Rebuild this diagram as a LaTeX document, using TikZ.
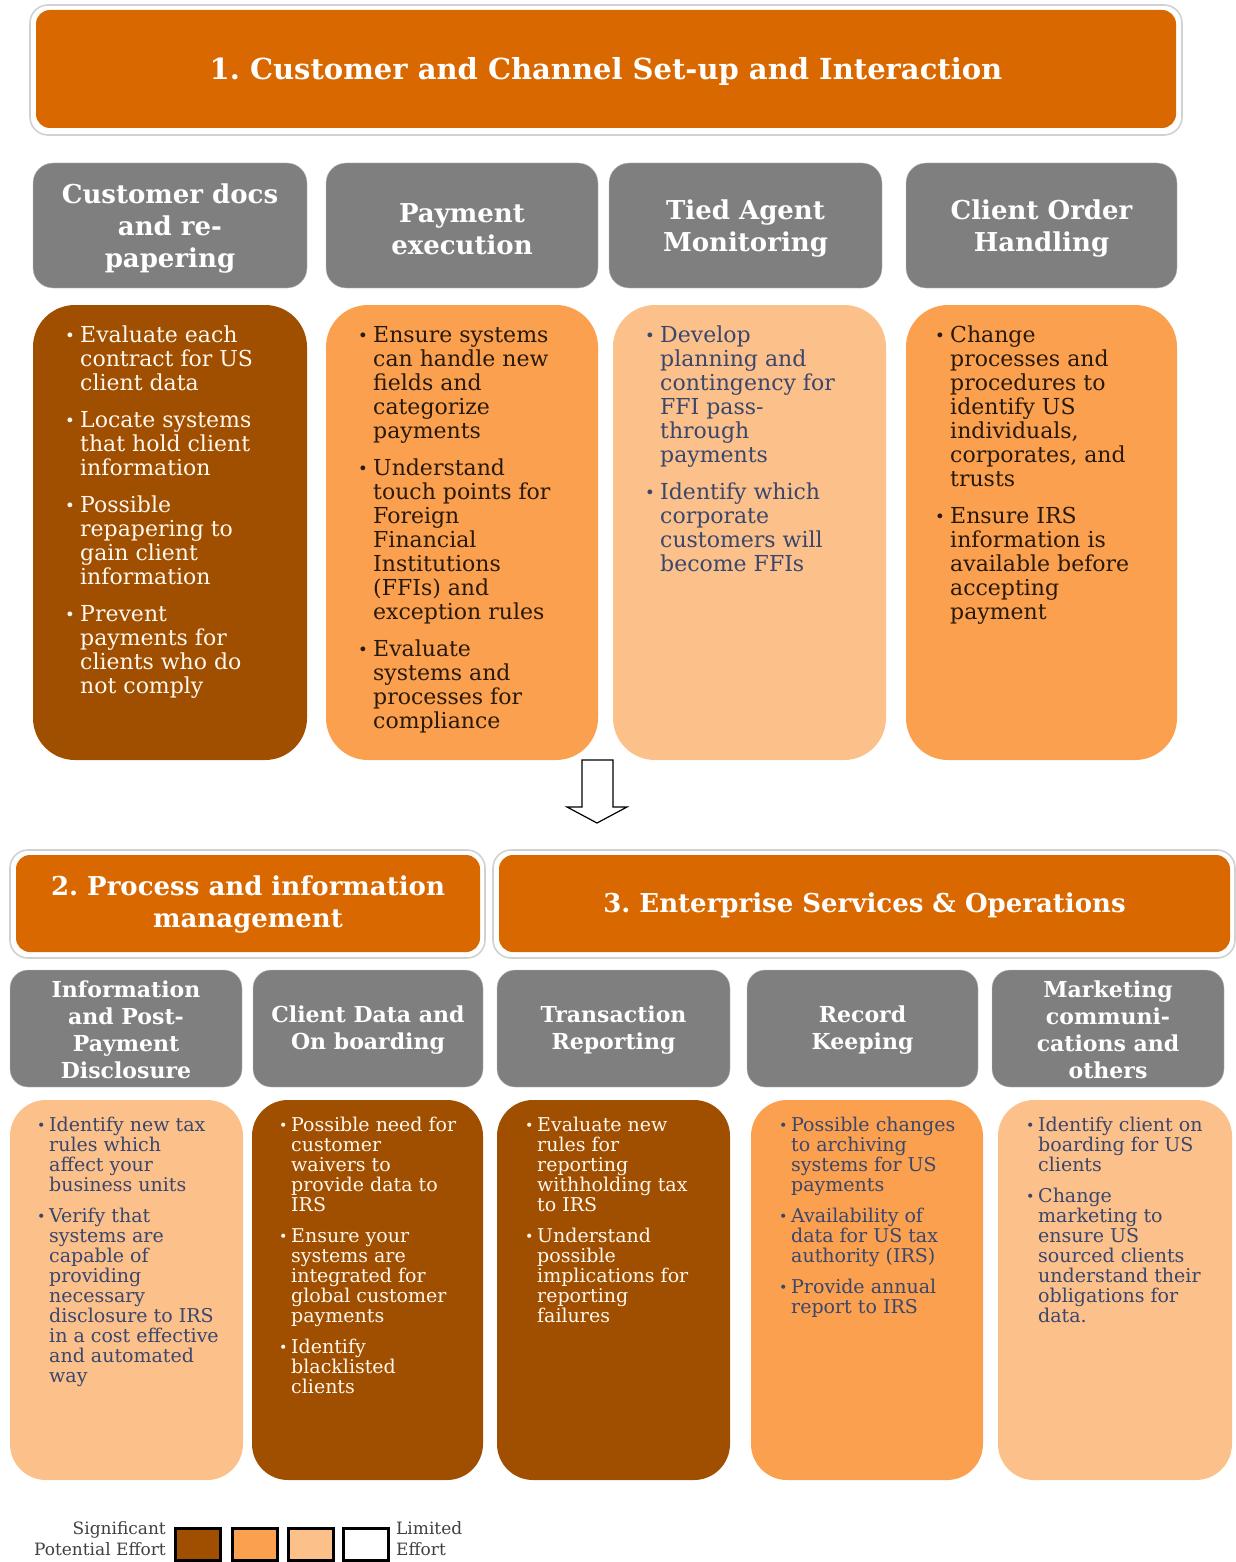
\documentclass[tikz,border=0pt]{standalone}
\usepackage{fontspec}
\setmainfont{DejaVu Serif}
\frenchspacing
\definecolor{banner}{RGB}{217,104,0}
\definecolor{hdrgray}{RGB}{127,127,127}
\definecolor{darkfill}{RGB}{160,78,0}
\definecolor{midfill}{RGB}{251,160,78}
\definecolor{lightfill}{RGB}{252,192,138}
\definecolor{navy}{RGB}{58,70,108}
\definecolor{ink}{RGB}{40,25,10}
\definecolor{cream}{RGB}{255,248,238}
\newcommand\bua{\makebox[15pt][l]{\raisebox{0.05em}{\scalebox{0.75}{\textbullet}}}}
\newcommand\inda{\hspace*{15pt}}
\newcommand\bub{\makebox[12pt][l]{\raisebox{0.05em}{\scalebox{0.75}{\textbullet}}}}
\newcommand\indb{\hspace*{12pt}}
\begin{document}
\begin{tikzpicture}[x=1pt,y=-1pt,
  frame/.style={draw=black!18,line width=1.6pt,fill=white,rounded corners=18pt,inner sep=0},
  bannerbox/.style={fill=banner,rounded corners=14pt,inner sep=0},
  titletext/.style={text=white,font=\bfseries\fontsize{29}{32}\selectfont,align=center,inner sep=0},
  hdrbox/.style={fill=hdrgray,draw=black!25,line width=0.4pt,rounded corners=20pt,inner sep=0},
  hdrtext/.style={text=white,font=\bfseries\fontsize{26}{32}\selectfont,align=center,inner sep=0},
  hdrtextb/.style={text=white,font=\bfseries\fontsize{22}{27}\selectfont,align=center,inner sep=0},
  contentbox/.style={rounded corners=42pt,inner sep=0},
  contentboxb/.style={rounded corners=36pt,inner sep=0},
  bodya/.style={anchor=north west,align=left,inner sep=0,font=\fontsize{22}{24}\selectfont},
  bodyb/.style={anchor=north west,align=left,inner sep=0,font=\fontsize{19}{20}\selectfont},
  legbox/.style={draw=black,line width=3pt,inner sep=0,minimum width=45pt,minimum height=32pt},
  legtext/.style={inner sep=0,text=black!75,font=\fontsize{17}{21}\selectfont}
]
\useasboundingbox (0,0) rectangle (1235,1562);

% ---------- Banner 1 ----------
\node[frame,minimum width=1152pt,minimum height=130pt] (f1) at (606,70) {};
\node[bannerbox,minimum width=1140pt,minimum height=118pt] (b1) at (606,69) {};
\node[titletext] (t1) at (606,72) {1. Customer and Channel Set-up and Interaction};

% ---------- Row 1 headers ----------
\node[hdrbox,minimum width=274pt,minimum height=125pt] (h11) at (170,225.5) {};
\node[hdrbox,minimum width=272pt,minimum height=125pt] (h12) at (462,225.5) {};
\node[hdrbox,minimum width=273pt,minimum height=125pt] (h13) at (745.5,225.5) {};
\node[hdrbox,minimum width=271pt,minimum height=125pt] (h14) at (1041.5,225.5) {};
\node[hdrtext] (ht11) at (170,229) {Customer docs\\and re-\\papering};
\node[hdrtext] (ht12) at (462,229) {Payment\\execution};
\node[hdrtext] (ht13) at (745.5,229) {Tied Agent\\Monitoring};
\node[hdrtext] (ht14) at (1041.5,229) {Client Order\\Handling};

% ---------- Row 1 content ----------
\node[contentbox,fill=darkfill,minimum width=274pt,minimum height=455pt] (c11) at (170,532.5) {};
\node[contentbox,fill=midfill,minimum width=272pt,minimum height=455pt] (c12) at (462,532.5) {};
\node[contentbox,fill=lightfill,minimum width=273pt,minimum height=455pt] (c13) at (749.5,532.5) {};
\node[contentbox,fill=midfill,minimum width=271pt,minimum height=455pt] (c14) at (1041.5,532.5) {};

\node[bodya,text=cream] (x11) at (65,326) {\bua Evaluate each\\\inda contract for US\\\inda client data\\[13pt]
\bua Locate systems\\\inda that hold client\\\inda information\\[13pt]
\bua Possible\\\inda repapering to\\\inda gain client\\\inda information\\[13pt]
\bua Prevent\\\inda payments for\\\inda clients who do\\\inda not comply};

\node[bodya,text=ink] (x12) at (358,326) {\bua Ensure systems\\\inda can handle new\\\inda fields and\\\inda categorize\\\inda payments\\[13pt]
\bua Understand\\\inda touch points for\\\inda Foreign\\\inda Financial\\\inda Institutions\\\inda (FFIs) and\\\inda exception rules\\[13pt]
\bua Evaluate\\\inda systems and\\\inda processes for\\\inda compliance};

\node[bodya,text=navy] (x13) at (645,326) {\bua Develop\\\inda planning and\\\inda contingency for\\\inda FFI pass-\\\inda through\\\inda payments\\[13pt]
\bua Identify which\\\inda corporate\\\inda customers will\\\inda become FFIs};

\node[bodya,text=ink] (x14) at (935,326) {\bua Change\\\inda processes and\\\inda procedures to\\\inda identify US\\\inda individuals,\\\inda corporates, and\\\inda trusts\\[13pt]
\bua Ensure IRS\\\inda information is\\\inda available before\\\inda accepting\\\inda payment};

% ---------- Arrow ----------
\draw[line width=1.2pt,fill=white,line join=miter] (582,760) -- (582,807) -- (567,807) -- (597,823) -- (627,807) -- (613,807) -- (613,760) -- cycle;

% ---------- Banners 2 and 3 ----------
\node[frame,minimum width=475pt,minimum height=108pt] (f2) at (247.5,904) {};
\node[bannerbox,minimum width=464pt,minimum height=97pt] (b2) at (248,903.5) {};
\node[titletext,font=\bfseries\fontsize{26}{32}\selectfont] (t2) at (248,905) {2. Process and information\\management};
\node[frame,minimum width=742pt,minimum height=108pt] (f3) at (864,904) {};
\node[bannerbox,minimum width=731pt,minimum height=97pt] (b3) at (864.5,903.5) {};
\node[titletext,font=\bfseries\fontsize{26}{32}\selectfont] (t3) at (864.5,905) {3. Enterprise Services \& Operations};

% ---------- Row 2 headers ----------
\node[hdrbox,rounded corners=18pt,minimum width=232pt,minimum height=117pt] (h21) at (126,1028.5) {};
\node[hdrbox,rounded corners=18pt,minimum width=230pt,minimum height=117pt] (h22) at (368,1028.5) {};
\node[hdrbox,rounded corners=18pt,minimum width=233pt,minimum height=117pt] (h23) at (613.5,1028.5) {};
\node[hdrbox,rounded corners=18pt,minimum width=231pt,minimum height=117pt] (h24) at (862.5,1028.5) {};
\node[hdrbox,rounded corners=18pt,minimum width=232pt,minimum height=117pt] (h25) at (1108,1028.5) {};
\node[hdrtextb] (ht21) at (126,1030) {Information\\and Post-\\Payment\\Disclosure};
\node[hdrtextb] (ht22) at (368,1030) {Client Data and\\On boarding};
\node[hdrtextb] (ht23) at (613.5,1030) {Transaction\\Reporting};
\node[hdrtextb] (ht24) at (862.5,1030) {Record\\Keeping};
\node[hdrtextb] (ht25) at (1108,1030) {Marketing\\communi-\\cations and\\others};

% ---------- Row 2 content ----------
\node[contentboxb,fill=lightfill,minimum width=233pt,minimum height=380pt] (c21) at (126.5,1290) {};
\node[contentboxb,fill=darkfill,minimum width=231pt,minimum height=380pt] (c22) at (367.5,1290) {};
\node[contentboxb,fill=darkfill,minimum width=233pt,minimum height=380pt] (c23) at (613.5,1290) {};
\node[contentboxb,fill=midfill,minimum width=232pt,minimum height=380pt] (c24) at (867,1290) {};
\node[contentboxb,fill=lightfill,minimum width=234pt,minimum height=380pt] (c25) at (1115,1290) {};

\node[bodyb,text=navy] (x21) at (37,1117) {\bub Identify new tax\\\indb rules which\\\indb affect your\\\indb business units\\[11pt]
\bub Verify that\\\indb systems are\\\indb capable of\\\indb providing\\\indb necessary\\\indb disclosure to IRS\\\indb in a cost effective\\\indb and automated\\\indb way};

\node[bodyb,text=cream] (x22) at (279,1117) {\bub Possible need for\\\indb customer\\\indb waivers to\\\indb provide data to\\\indb IRS\\[11pt]
\bub Ensure your\\\indb systems are\\\indb integrated for\\\indb global customer\\\indb payments\\[11pt]
\bub Identify\\\indb blacklisted\\\indb clients};

\node[bodyb,text=cream] (x23) at (525,1117) {\bub Evaluate new\\\indb rules for\\\indb reporting\\\indb withholding tax\\\indb to IRS\\[11pt]
\bub Understand\\\indb possible\\\indb implications for\\\indb reporting\\\indb failures};

\node[bodyb,text=navy] (x24) at (779,1117) {\bub Possible changes\\\indb to archiving\\\indb systems for US\\\indb payments\\[11pt]
\bub Availability of\\\indb data for US tax\\\indb authority (IRS)\\[11pt]
\bub Provide annual\\\indb report to IRS};

\node[bodyb,text=navy] (x25) at (1026,1117) {\bub Identify client on\\\indb boarding for US\\\indb clients\\[11pt]
\bub Change\\\indb marketing to\\\indb ensure US\\\indb sourced clients\\\indb understand their\\\indb obligations for\\\indb data.};

% ---------- Legend ----------
\node[legtext,anchor=north east,align=right] (l1) at (166,1521) {Significant\\Potential Effort};
\node[legbox,fill=darkfill] (lg1) at (197.5,1544) {};
\node[legbox,fill=midfill] (lg2) at (255,1544) {};
\node[legbox,fill=lightfill] (lg3) at (311,1544) {};
\node[legbox,fill=white] (lg4) at (365.5,1544) {};
\node[legtext,anchor=north west,align=left] (l2) at (396,1521) {Limited\\Effort};
\end{tikzpicture}
\end{document}
